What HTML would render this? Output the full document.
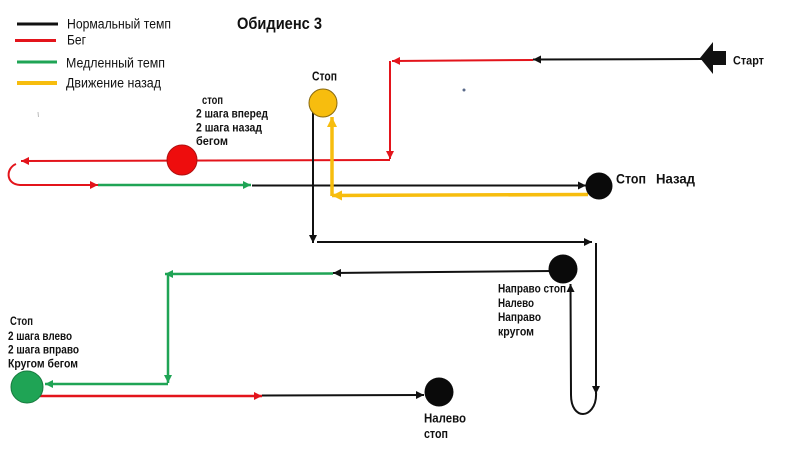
<!DOCTYPE html>
<html>
<head>
<meta charset="utf-8">
<style>
html,body{margin:0;padding:0;background:#fff;}
svg{display:block;}
text{font-family:"Liberation Sans","DejaVu Sans",sans-serif;fill:#111;}
.b{font-weight:bold;}
</style>
</head>
<body>
<svg width="800" height="450" viewBox="0 0 800 450" xmlns="http://www.w3.org/2000/svg">
<defs>
<marker id="ak" viewBox="0 0 10 10" refX="10" refY="5" markerWidth="8" markerHeight="8" markerUnits="userSpaceOnUse" orient="auto"><path d="M0,0 L10,5 L0,10 z" fill="#111"/></marker>
<marker id="ar" viewBox="0 0 10 10" refX="10" refY="5" markerWidth="8" markerHeight="8" markerUnits="userSpaceOnUse" orient="auto"><path d="M0,0 L10,5 L0,10 z" fill="#e3141b"/></marker>
<marker id="ag" viewBox="0 0 10 10" refX="10" refY="5" markerWidth="8" markerHeight="8" markerUnits="userSpaceOnUse" orient="auto"><path d="M0,0 L10,5 L0,10 z" fill="#1fa455"/></marker>
<marker id="ay" viewBox="0 0 10 10" refX="10" refY="5" markerWidth="10" markerHeight="10" markerUnits="userSpaceOnUse" orient="auto"><path d="M0,0 L10,5 L0,10 z" fill="#f7bd0e"/></marker>
</defs>

<!-- Legend -->
<line x1="17" y1="24" x2="58" y2="24" stroke="#111" stroke-width="3"/>
<text x="67" y="28.5" font-size="13.5" textLength="104" lengthAdjust="spacingAndGlyphs">Нормальный темп</text>
<line x1="15" y1="40.5" x2="56" y2="40.5" stroke="#e3141b" stroke-width="3"/>
<text x="67" y="44.5" font-size="13.5" textLength="19" lengthAdjust="spacingAndGlyphs">Бег</text>
<line x1="17" y1="62" x2="57" y2="62" stroke="#1fa455" stroke-width="3"/>
<text x="66" y="67.5" font-size="13.5" textLength="99" lengthAdjust="spacingAndGlyphs">Медленный темп</text>
<line x1="17" y1="83" x2="57" y2="83" stroke="#f7bd0e" stroke-width="4"/>
<text x="66" y="87.5" font-size="13.5" textLength="95" lengthAdjust="spacingAndGlyphs">Движение назад</text>

<!-- Title -->
<text x="237" y="29" font-size="17" class="b" textLength="85" lengthAdjust="spacingAndGlyphs">Обидиенс 3</text>

<!-- Start arrow -->
<path d="M700,58 L713,42 L713,51 L726,51 L726,65 L713,65 L713,74 z" fill="#111"/>
<text x="733" y="64.5" font-size="12" class="b" textLength="31" lengthAdjust="spacingAndGlyphs">Старт</text>

<!-- Start black line -->
<line x1="702" y1="59" x2="533" y2="59.5" stroke="#111" stroke-width="2" marker-end="url(#ak)"/>
<!-- Red from 533 to 392 -->
<line x1="533" y1="60" x2="392" y2="61" stroke="#e3141b" stroke-width="2" marker-end="url(#ar)"/>
<!-- Red vertical down -->
<line x1="390" y1="61" x2="390" y2="159" stroke="#e3141b" stroke-width="2" marker-end="url(#ar)"/>
<!-- Red horizontal left -->
<line x1="390" y1="160" x2="21" y2="161" stroke="#e3141b" stroke-width="2" marker-end="url(#ar)"/>
<!-- Red U turn -->
<path d="M16,164 C6,168 5,184 20,185 L98,185" fill="none" stroke="#e3141b" stroke-width="2" marker-end="url(#ar)"/>
<!-- Green segment -->
<line x1="98" y1="185" x2="251" y2="185" stroke="#1fa455" stroke-width="2.5" marker-end="url(#ag)"/>
<!-- Black to Назад -->
<line x1="252" y1="185.5" x2="586" y2="185.5" stroke="#111" stroke-width="2" marker-end="url(#ak)"/>

<!-- Yellow back -->
<polyline points="588,194.5 332,195.5" fill="none" stroke="#f7bd0e" stroke-width="3.5" marker-end="url(#ay)"/>
<line x1="332" y1="196" x2="332" y2="117" stroke="#f7bd0e" stroke-width="3.5" marker-end="url(#ay)"/>

<!-- Black down from yellow circle -->
<line x1="313" y1="110" x2="313" y2="243" stroke="#111" stroke-width="2" marker-end="url(#ak)"/>
<!-- Black horizontal right -->
<line x1="317" y1="242" x2="592" y2="242" stroke="#111" stroke-width="2" marker-end="url(#ak)"/>
<!-- Black vertical down -->
<line x1="596" y1="243" x2="596" y2="394" stroke="#111" stroke-width="2" marker-end="url(#ak)"/>
<!-- U turn up -->
<path d="M596,392 C597,408 588,414 583,414 C577,414 571,408 571,395 L570.5,284" fill="none" stroke="#111" stroke-width="2" marker-end="url(#ak)"/>

<!-- Black left from circle -->
<line x1="552" y1="271" x2="333" y2="273" stroke="#111" stroke-width="2" marker-end="url(#ak)"/>
<!-- Green left -->
<line x1="333" y1="273.5" x2="165" y2="274" stroke="#1fa455" stroke-width="2.5" marker-end="url(#ag)"/>
<!-- Green down -->
<line x1="168" y1="274" x2="168" y2="383" stroke="#1fa455" stroke-width="2.5" marker-end="url(#ag)"/>
<!-- Green left to circle -->
<line x1="168" y1="384" x2="45" y2="384" stroke="#1fa455" stroke-width="2.5" marker-end="url(#ag)"/>
<!-- Red from green circle -->
<line x1="40" y1="396" x2="262" y2="396" stroke="#e3141b" stroke-width="2.5" marker-end="url(#ar)"/>
<!-- Black to final -->
<line x1="262" y1="395.5" x2="424" y2="395" stroke="#111" stroke-width="2" marker-end="url(#ak)"/>

<!-- Circles -->
<circle cx="182" cy="160" r="15" fill="#ee0d0d" stroke="#b01010" stroke-width="1"/>
<circle cx="323" cy="103" r="14" fill="#f7bd0e" stroke="#8a6a10" stroke-width="1"/>
<circle cx="599" cy="186" r="13.5" fill="#0a0a0a"/>
<circle cx="563" cy="269" r="14.5" fill="#0a0a0a"/>
<circle cx="27" cy="387" r="16" fill="#1fa455" stroke="#177a3e" stroke-width="1"/>
<circle cx="439" cy="392" r="14.5" fill="#0a0a0a"/>

<!-- Labels -->
<text x="312" y="80.5" font-size="12.5" class="b" textLength="25" lengthAdjust="spacingAndGlyphs">Стоп</text>

<text x="202" y="104" font-size="11.5" class="b" textLength="21" lengthAdjust="spacingAndGlyphs">стоп</text>
<text x="196" y="117.5" font-size="11.5" class="b" textLength="72" lengthAdjust="spacingAndGlyphs">2 шага вперед</text>
<text x="196" y="131.5" font-size="11.5" class="b" textLength="66" lengthAdjust="spacingAndGlyphs">2 шага назад</text>
<text x="196" y="145" font-size="11.5" class="b" textLength="32" lengthAdjust="spacingAndGlyphs">бегом</text>

<text x="616" y="183.5" font-size="13.5" class="b" textLength="30" lengthAdjust="spacingAndGlyphs">Стоп</text>
<text x="656" y="183.5" font-size="13.5" class="b" textLength="39" lengthAdjust="spacingAndGlyphs">Назад</text>

<text x="498" y="292.5" font-size="11.5" class="b" textLength="68" lengthAdjust="spacingAndGlyphs">Направо стоп</text>
<text x="498" y="307" font-size="11.5" class="b" textLength="36" lengthAdjust="spacingAndGlyphs">Налево</text>
<text x="498" y="321" font-size="11.5" class="b" textLength="43" lengthAdjust="spacingAndGlyphs">Направо</text>
<text x="498" y="335.5" font-size="11.5" class="b" textLength="36" lengthAdjust="spacingAndGlyphs">кругом</text>

<text x="10" y="325" font-size="11.5" class="b" textLength="23" lengthAdjust="spacingAndGlyphs">Стоп</text>
<text x="8" y="340" font-size="11.5" class="b" textLength="64" lengthAdjust="spacingAndGlyphs">2 шага влево</text>
<text x="8" y="353.5" font-size="11.5" class="b" textLength="71" lengthAdjust="spacingAndGlyphs">2 шага вправо</text>
<text x="8" y="367.5" font-size="11.5" class="b" textLength="70" lengthAdjust="spacingAndGlyphs">Кругом бегом</text>

<text x="424" y="422.5" font-size="12.5" class="b" textLength="42" lengthAdjust="spacingAndGlyphs">Налево</text>
<text x="424" y="438" font-size="12.5" class="b" textLength="24" lengthAdjust="spacingAndGlyphs">стоп</text>

<!-- small artifacts -->
<circle cx="464" cy="90" r="1.5" fill="#5a6a8a"/>
<line x1="38" y1="112" x2="38.5" y2="117" stroke="#bbb" stroke-width="1"/>
</svg>
</body>
</html>
